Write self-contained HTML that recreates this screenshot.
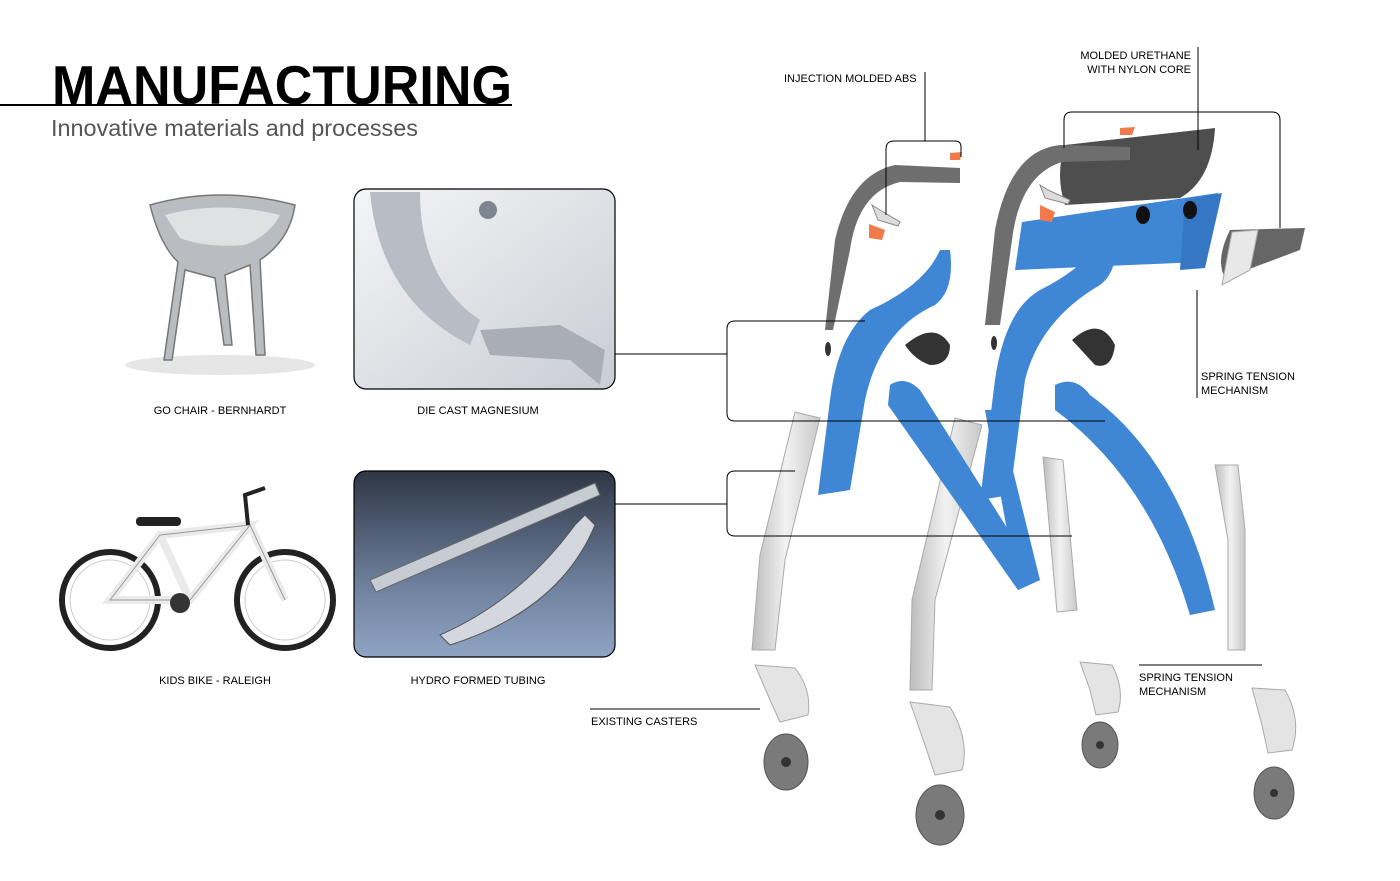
<!DOCTYPE html>
<html><head><meta charset="utf-8"><style>
html,body{margin:0;padding:0;background:#fff;width:1400px;height:881px;overflow:hidden}
text{font-family:"Liberation Sans",sans-serif}
</style></head><body>
<svg width="1400" height="881" viewBox="0 0 1400 881" xmlns="http://www.w3.org/2000/svg">
<defs>
<linearGradient id="hy" x1="0" y1="0" x2="0" y2="1"><stop offset="0" stop-color="#2e3644"/><stop offset="0.6" stop-color="#6d7f9c"/><stop offset="1" stop-color="#8fa4c4"/></linearGradient>
<linearGradient id="dc" x1="0" y1="0" x2="1" y2="1"><stop offset="0" stop-color="#f4f5f7"/><stop offset="1" stop-color="#c9cdd4"/></linearGradient>
<linearGradient id="tube" x1="0" y1="0" x2="1" y2="0"><stop offset="0" stop-color="#bcbcbc"/><stop offset="0.5" stop-color="#f2f2f2"/><stop offset="1" stop-color="#c8c8c8"/></linearGradient>
</defs>
<rect width="1400" height="881" fill="#fff"/>
<text x="52" y="104" font-size="55" font-weight="bold" fill="#000" textLength="460" lengthAdjust="spacingAndGlyphs">MANUFACTURING</text>
<line x1="0" y1="105" x2="512" y2="105" stroke="#000" stroke-width="2"/>
<text x="51" y="136" font-size="23" fill="#555" textLength="367" lengthAdjust="spacingAndGlyphs">Innovative materials and processes</text>

<ellipse cx="220" cy="365" rx="95" ry="10" fill="#e6e6e6"/>
<path d="M150 205 Q220 185 295 205 Q290 240 260 260 L265 355 L256 355 L250 265 L225 275 L232 345 L224 345 L215 278 L185 270 L172 360 L164 360 L178 262 Q160 245 150 205Z" fill="#b9bcc0" stroke="#777" stroke-width="1.5"/>
<path d="M165 215 Q220 200 280 215 Q270 235 245 245 Q205 248 180 238Z" fill="#dfe1e3"/>

<rect x="354" y="189" width="261" height="200" rx="12" fill="url(#dc)" stroke="#000" stroke-width="1.2"/>
<path d="M370 192 Q380 300 470 345 L480 320 Q420 280 420 192Z" fill="#b8bdc5"/>
<circle cx="488" cy="210" r="9" fill="#7f8590"/>
<path d="M480 330 L560 325 L605 350 L600 385 L570 360 L490 355Z" fill="#a9aeb6"/>

<circle cx="110" cy="600" r="48" fill="none" stroke="#222" stroke-width="6"/>
<circle cx="285" cy="600" r="48" fill="none" stroke="#222" stroke-width="6"/>
<circle cx="110" cy="600" r="40" fill="none" stroke="#ccc" stroke-width="1"/>
<circle cx="285" cy="600" r="40" fill="none" stroke="#ccc" stroke-width="1"/>
<path d="M110 600 L160 535 L250 525 L190 600 Z M160 535 L190 600 M250 525 L285 600" fill="none" stroke="#eaeaea" stroke-width="8"/>
<path d="M110 600 L160 535 L250 525 L190 600 Z M250 525 L285 600" fill="none" stroke="#999" stroke-width="1"/>
<rect x="136" y="517" width="45" height="9" rx="4" fill="#222"/>
<path d="M248 525 L245 495 L265 488" fill="none" stroke="#222" stroke-width="4"/>
<circle cx="180" cy="603" r="10" fill="#333"/>

<rect x="354" y="471" width="261" height="186" rx="12" fill="url(#hy)" stroke="#000" stroke-width="1.2"/>
<path d="M370 580 L595 483 L600 495 L376 592Z" fill="#c7ccd3" stroke="#666"/>
<path d="M440 635 Q520 600 575 525 L585 515 L595 525 Q560 610 450 645Z" fill="#d4d8de" stroke="#555"/>

<g font-size="11" fill="#000" text-anchor="middle">
<text x="220" y="414">GO CHAIR - BERNHARDT</text>
<text x="478" y="414">DIE CAST MAGNESIUM</text>
<text x="215" y="684">KIDS BIKE  - RALEIGH</text>
<text x="478" y="684">HYDRO FORMED TUBING</text>
</g>
<g font-size="11" fill="#000">
<text x="591" y="725">EXISTING CASTERS</text>
<text x="784" y="82">INJECTION MOLDED ABS</text>
<text x="1191" y="59" text-anchor="end">MOLDED URETHANE</text>
<text x="1191" y="73" text-anchor="end">WITH NYLON CORE</text>
<text x="1201" y="380">SPRING TENSION</text>
<text x="1201" y="394">MECHANISM</text>
<text x="1139" y="681">SPRING TENSION</text>
<text x="1139" y="695">MECHANISM</text>
</g>

<g fill="url(#tube)" stroke="#aaa" stroke-width="1">
<path d="M795 412 L820 418 L785 560 L775 650 L752 650 L760 555Z"/>
<path d="M955 418 L982 425 L935 600 L932 690 L910 690 L912 600Z"/>
<path d="M1043 457 L1063 460 L1077 610 L1057 612Z"/>
<path d="M1215 465 L1238 465 L1245 530 L1245 650 L1228 650 L1228 540Z"/>
</g>
<g fill="#e4e4e4" stroke="#aaa">
<path d="M755 665 L795 668 Q812 690 808 715 L780 722 L770 700Z"/>
<path d="M910 702 L950 707 Q970 740 962 770 L935 775 L925 745Z"/>
<path d="M1080 662 L1112 665 Q1125 690 1118 712 L1096 715 L1090 690Z"/>
<path d="M1252 688 L1285 690 Q1302 720 1292 750 L1268 753 L1262 725Z"/>
</g>
<g fill="#7a7a7a" stroke="#555">
<ellipse cx="786" cy="762" rx="22" ry="28"/>
<ellipse cx="940" cy="815" rx="24" ry="30"/>
<ellipse cx="1100" cy="745" rx="18" ry="23"/>
<ellipse cx="1274" cy="793" rx="20" ry="26"/>
</g>
<g fill="#333"><circle cx="786" cy="762" r="5"/><circle cx="940" cy="815" r="5"/><circle cx="1100" cy="745" r="4"/><circle cx="1274" cy="793" r="4"/></g>

<path d="M1022 222 L1218 193 L1200 262 L1015 270Z" fill="#3f86d4"/>
<path d="M1185 200 L1222 193 L1205 268 L1180 270Z" fill="#3577c4"/>
<ellipse cx="1143" cy="215" rx="7" ry="9" fill="#111"/><ellipse cx="1190" cy="210" rx="7" ry="9" fill="#111"/>
<path d="M1065 145 L1215 128 Q1212 180 1180 198 L1065 205 Q1055 175 1065 145Z" fill="#4e4e4e"/>
<path d="M1230 230 L1305 228 L1300 250 L1225 278 Q1215 260 1230 230Z" fill="#666"/>
<path d="M1232 232 L1258 230 L1250 270 L1222 285Z" fill="#e8e8e8" stroke="#aaa"/>
<path d="M825 330 L835 240 Q850 175 895 165 L960 168 L960 183 L900 182 Q858 192 850 250 L833 330Z" fill="#6e6e6e"/>
<path d="M985 325 L995 230 Q1010 150 1060 145 L1130 147 L1130 160 L1062 162 Q1020 175 1012 240 L1000 325Z" fill="#6e6e6e"/>
<g fill="#f07a4a"><path d="M950 153 L962 152 L960 160 L950 160Z"/><path d="M1120 128 L1135 127 L1132 135 L1120 135Z"/><path d="M869 224 L885 230 L882 240 L869 238Z"/><path d="M1040 205 L1055 212 L1052 222 L1040 220Z"/></g>
<g fill="#ddd" stroke="#888"><path d="M872 205 L880 210 L900 222 L898 226 L878 220Z"/><path d="M1040 185 L1048 190 L1070 200 L1068 204 L1045 198Z"/></g>
<g fill="#3f86d4">
<path d="M940 250 L950 250 Q955 290 935 305 Q880 330 865 400 L850 490 L818 495 L830 400 Q838 335 870 310 Q925 285 940 250Z"/>
<path d="M1105 232 L1115 232 Q1120 270 1100 285 Q1040 320 1025 380 L1010 495 L980 500 L995 380 Q1005 310 1040 290 Q1090 265 1105 232Z"/>
<path d="M890 385 Q905 375 920 390 L1040 580 L1018 590 L888 405Z"/>
<path d="M1055 385 Q1075 375 1090 395 Q1180 460 1215 610 L1190 615 Q1150 480 1055 410Z"/>
<path d="M985 410 L998 410 L1040 580 L1018 590 Z"/>
</g>
<g fill="#333"><path d="M905 345 Q935 320 950 345 Q950 365 930 365 Q915 360 905 345Z"/><path d="M1072 340 Q1100 315 1115 345 Q1112 370 1095 365Z"/><ellipse cx="828" cy="349" rx="3" ry="7"/><ellipse cx="994" cy="343" rx="3" ry="7"/></g>

<g fill="none" stroke="#000" stroke-width="1">
<line x1="615" y1="354" x2="727" y2="354"/>
<path d="M865 321 L735 321 Q727 321 727 329 L727 413 Q727 421 735 421 L1105 421"/>
<line x1="615" y1="504" x2="727" y2="504"/>
<path d="M795 471 L735 471 Q727 471 727 479 L727 528 Q727 536 735 536 L1072 536"/>
<line x1="590" y1="709" x2="760" y2="709"/>
<path d="M925 72 L925 141 L894 141 Q886 141 886 149 L886 215"/>
<path d="M925 141 L955 141 Q961 141 961 147 L961 157"/>
<line x1="1198" y1="47" x2="1198" y2="150"/>
<path d="M1064 148 L1064 120 Q1064 112 1072 112 L1272 112 Q1280 112 1280 120 L1280 228"/>
<line x1="1197" y1="290" x2="1197" y2="398"/>
<line x1="1139" y1="665" x2="1262" y2="665"/>
</g>
</svg>
</body></html>
